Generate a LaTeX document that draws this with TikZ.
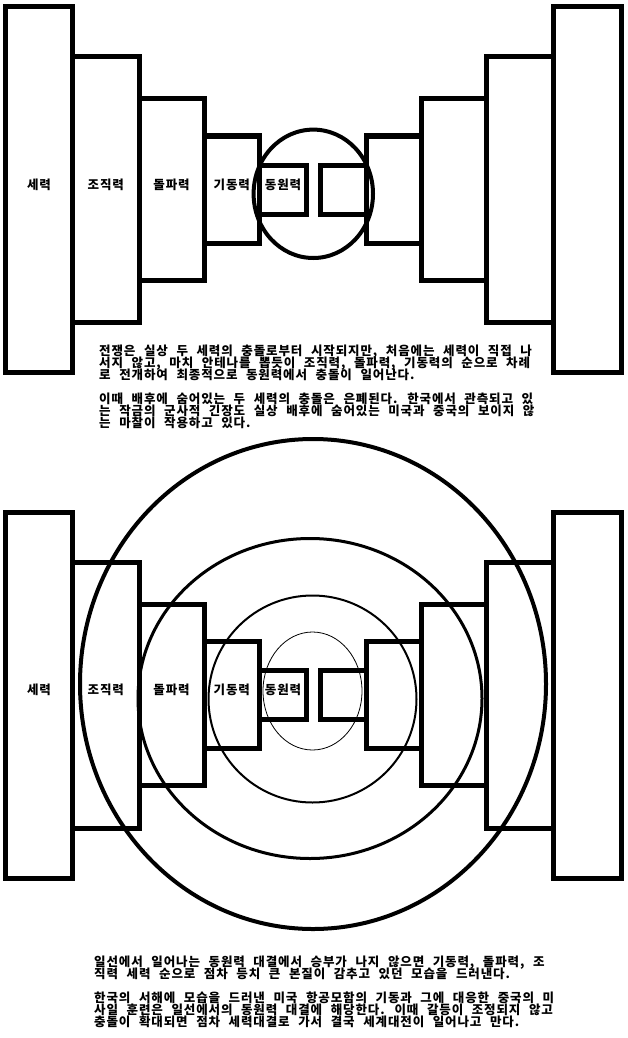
\documentclass[tikz,border=0pt]{standalone}
\usepackage{fontspec}
\usepackage{tikz}
\usetikzlibrary{positioning}
\newfontfamily\krfont{Noto Sans CJK KR}[LetterSpace=7, WordSpace=2.3]

\begin{document}
\begin{tikzpicture}[
    x=1pt, y=-1pt,
    slab/.style={
        rectangle, draw, line width=5pt, inner sep=0pt, outer sep=0pt,
        text height=5pt, text depth=6pt,
        font=\krfont\bfseries\fontsize{12.5pt}{12pt}\selectfont
    },
    ring/.style={draw, line width=4pt},
    note/.style={
        anchor=base west, align=left, inner sep=0pt,
        font={\krfont\bfseries\fontsize{12.5pt}{12pt}\selectfont\lineskiplimit -20pt\relax}
    }
]
\useasboundingbox (0,0) rectangle (628,1038);

%% Upper figure: left stack
\node (powL) [slab, minimum width=67pt, minimum height=366pt] at (39,189.5) {세력};
\node (orgL) [slab, minimum width=66.5pt, minimum height=266pt, right=0pt of powL] {조직력};
\node (brkL) [slab, minimum width=65pt, minimum height=181pt, right=0pt of orgL] {돌파력};
\node (mobL) [slab, minimum width=55.5pt, minimum height=107pt, right=0pt of brkL] {기동력};
\node (mzL)  [slab, minimum width=47pt, minimum height=49pt, right=0pt of mobL] {동원력};

%% Upper figure: right stack
\node (mzR)  [slab, minimum width=46.5pt, minimum height=49pt, right=13.5pt of mzL] {};
\node (mobR) [slab, minimum width=54.5pt, minimum height=107pt, right=0pt of mzR] {};
\node (brkR) [slab, minimum width=65.5pt, minimum height=181pt, right=0pt of mobR] {};
\node (orgR) [slab, minimum width=66.5pt, minimum height=266pt, right=0pt of brkR] {};
\node (powR) [slab, minimum width=68pt, minimum height=366pt, right=0pt of orgR] {};

%% Upper figure: contact zone
\draw [ring] (313.3,193.8) ellipse [x radius=59.7pt, y radius=64.2pt];

%% Upper text (base = last line)
\node (warnote) [note] at (99,379)
    {전쟁은 실상 두 세력의 충돌로부터 시작되지만, 처음에는 세력이 직접 나\\
     서지 않고, 마치 안테나를 뽑듯이 조직력, 돌파력, 기동력의 순으로 차례\\
     로 전개하여 최종적으로 동원력에서 충돌이 일어난다.};
\node (hidenote) [note] at (99,427)
    {이때 배후에 숨어있는 두 세력의 충돌은 은폐된다. 한국에서 관측되고 있\\
     는 작금의 군사적 긴장도 실상 배후에 숨어있는 미국과 중국의 보이지 않\\
     는 마찰이 작용하고 있다.};

%% Lower figure: left stack
\node (powL2) [slab, minimum width=67pt, minimum height=366pt] at (39,695) {세력};
\node (orgL2) [slab, minimum width=66.5pt, minimum height=266pt, right=0pt of powL2] {조직력};
\node (brkL2) [slab, minimum width=65pt, minimum height=181pt, right=0pt of orgL2] {돌파력};
\node (mobL2) [slab, minimum width=55.5pt, minimum height=107pt, right=0pt of brkL2] {기동력};
\node (mzL2)  [slab, minimum width=47pt, minimum height=49pt, right=0pt of mobL2] {동원력};

%% Lower figure: right stack
\node (mzR2)  [slab, minimum width=46.5pt, minimum height=49pt, right=13.5pt of mzL2] {};
\node (mobR2) [slab, minimum width=54.5pt, minimum height=107pt, right=0pt of mzR2] {};
\node (brkR2) [slab, minimum width=65.5pt, minimum height=181pt, right=0pt of mobR2] {};
\node (orgR2) [slab, minimum width=66.5pt, minimum height=266pt, right=0pt of brkR2] {};
\node (powR2) [slab, minimum width=68pt, minimum height=366pt, right=0pt of orgR2] {};

%% Lower figure: widening rings
\draw [ring] (313,684) ellipse [x radius=233pt, y radius=245pt];
\draw [ring, line width=3pt] (310,698.5) ellipse [x radius=172pt, y radius=160pt];
\draw [ring, line width=2pt] (312.5,699) ellipse [x radius=104pt, y radius=103.5pt];
\draw [ring, line width=0.8pt] (312.5,691) ellipse [x radius=49.5pt, y radius=59pt];

%% Lower text (base = last line)
\node (frontnote) [note] at (94,978)
    {일선에서 일어나는 동원력 대결에서 승부가 나지 않으면 기동력, 돌파력, 조\\
     직력 세력 순으로 점차 등치 큰 본질이 감추고 있던 모습을 드러낸다.};
\node (seanote) [note] at (94,1026)
    {한국의 서해에 모습을 드러낸 미국 항공모함의 기동과 그에 대응한 중국의 미\\
     사일 훈련은 일선에서의 동원력 대결에 해당한다. 이때 갈등이 조정되지 않고\\
     충돌이 확대되면 점차 세력대결로 가서 결국 세계대전이 일어나고 만다.};

\end{tikzpicture}
\end{document}
